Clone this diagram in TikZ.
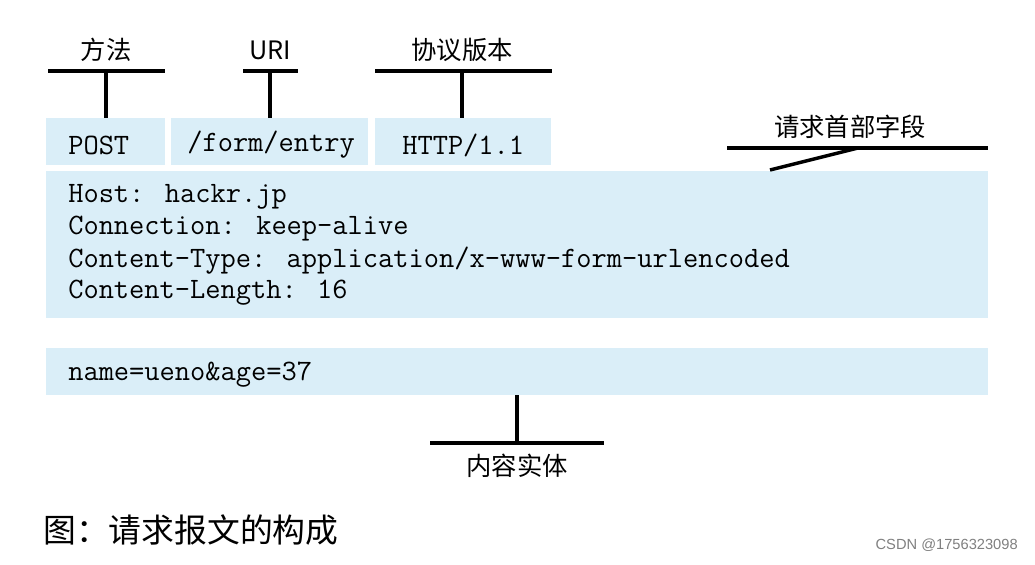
\documentclass[tikz,border=0pt]{standalone}
\usepackage{fontspec}
\newfontfamily\cjk{Noto Sans CJK SC}
\definecolor{boxc}{HTML}{DAEEF8}
\begin{document}
\begin{tikzpicture}[x=0.75pt,y=-0.75pt,
 bx/.style={fill=boxc,draw=none},
 mono/.style={font=\ttfamily\fontsize{22.2}{25}\selectfont,anchor=west,inner sep=0},
 lab/.style={font=\cjk\fontsize{19}{21}\selectfont,inner sep=0},
 ln/.style={line width=2.6pt}]
\useasboundingbox (0,0) rectangle (1035,564);
\fill[white] (0,0) rectangle (1035,564);
\fill[bx] (46,118) rectangle (165,165);
\fill[bx] (171,118) rectangle (368,165);
\fill[bx] (375,118) rectangle (551,165);
\fill[bx] (46,171) rectangle (988,318);
\fill[bx] (46,348) rectangle (988,395);
\node[mono] (post) at (68,145) {POST};
\node[mono] (uri) at (187,145) {/form/entry};
\node[mono] (ver) at (402,145) {HTTP/1.1};
\node[mono] (h1) at (68,197) {Host: hackr.jp};
\node[mono] (h2) at (68,229) {Connection: keep-alive};
\node[mono] (h3) at (68,261) {Content-Type: application/x-www-form-urlencoded};
\node[mono] (h4) at (68,293) {Content-Length: 16};
\node[mono] (body) at (68,375) {name=ueno\&age=37};
\node[lab] (l1) at (106,50) {方法};
\node[lab] (l2) at (270,50) {URI};
\node[lab] (l3) at (462,50) {协议版本};
\node[lab] (l4) at (850,127) {请求首部字段};
\node[lab] (l5) at (517,466) {内容实体};
\coordinate (a1) at (106,71); \coordinate (b1) at (106,118);
\coordinate (a2) at (270,71); \coordinate (b2) at (270,118);
\coordinate (a3) at (462,71); \coordinate (b3) at (462,118);
\coordinate (a4) at (858,148); \coordinate (b4) at (770,170);
\coordinate (a5) at (517,443); \coordinate (b5) at (517,395);
\draw[ln] (48,71) -- (165,71); \draw[ln] (a1) -- (b1);
\draw[ln] (243,71) -- (298,71); \draw[ln] (a2) -- (b2);
\draw[ln] (375,71) -- (552,71); \draw[ln] (a3) -- (b3);
\draw[ln] (727,148) -- (988,148); \draw[ln] (a4) -- (b4);
\draw[ln] (430,443) -- (604,443); \draw[ln] (a5) -- (b5);
\node[font=\cjk\fontsize{24.6}{28}\selectfont,anchor=west,inner sep=0] (cap) at (43,530) {图：请求报文的构成};
\node[font=\fontspec{Liberation Sans}\fontsize{11}{13}\selectfont,text=gray,anchor=east,inner sep=0] (wm) at (1018,545) {CSDN @1756323098};
\end{tikzpicture}
\end{document}
